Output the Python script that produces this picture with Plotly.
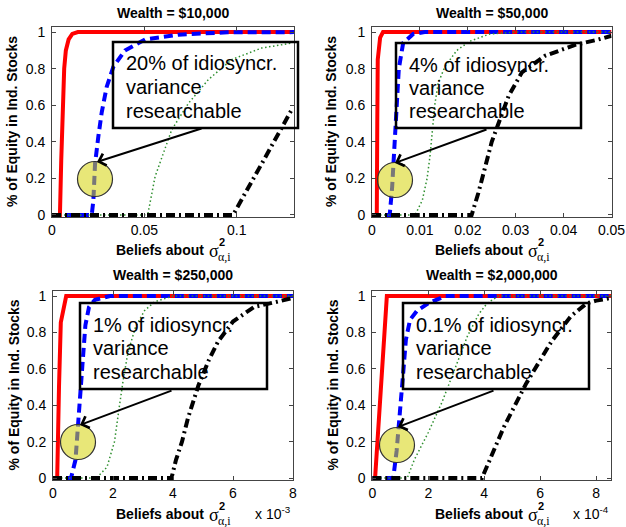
import plotly.graph_objects as go

W, H = 626, 527

# ---------------- data (x in axis units shown on each panel) ----------------
# Panel 1: Wealth = $10,000 (x in raw units)
w1_red_x = [0, 0.0043, 0.0050, 0.0057, 0.0066, 0.0075, 0.009, 0.011, 0.014, 0.131]
w1_red_y = [0, 0, 0.30, 0.60, 0.80, 0.90, 0.96, 0.99, 1.0, 1.0]
w1_blue_x = [0, 0.0215, 0.0224, 0.0233, 0.0251, 0.0269, 0.0296, 0.0332, 0.0395, 0.0504, 0.0684, 0.095, 0.131]
w1_blue_y = [0, 0, 0.08, 0.28, 0.43, 0.56, 0.70, 0.81, 0.90, 0.96, 0.986, 0.999, 1.0]
w1_green_x = [0, 0.050, 0.052, 0.0558, 0.0648, 0.0738, 0.0846, 0.0973, 0.1135, 0.1298]
w1_green_y = [0, 0, 0.01, 0.21, 0.466, 0.61, 0.74, 0.85, 0.913, 0.94]
w1_black_x = [0, 0.098, 0.1135, 0.130]
w1_black_y = [0, 0, 0.28, 0.58]

# Panel 2: Wealth = $50,000
w2_red_x = [0, 0.0010, 0.0011, 0.0012, 0.0017, 0.0023, 0.05]
w2_red_y = [0, 0, 0.50, 0.85, 0.97, 1.0, 1.0]
w2_blue_x = [0, 0.0037, 0.0042, 0.0046, 0.0049, 0.0052, 0.0056, 0.0065, 0.0086, 0.011, 0.05]
w2_blue_y = [0, 0, 0.15, 0.35, 0.55, 0.70, 0.80, 0.94, 0.99, 1.0, 1.0]
w2_green_x = [0, 0.009, 0.0105, 0.0115, 0.0121, 0.0125, 0.0131, 0.0138, 0.0152, 0.0177, 0.0204, 0.0246, 0.030, 0.05]
w2_green_y = [0, 0, 0.08, 0.20, 0.32, 0.45, 0.60, 0.72, 0.81, 0.90, 0.95, 0.99, 1.0, 1.0]
w2_black_x = [0, 0.0208, 0.0222, 0.025, 0.0285, 0.0313, 0.0361, 0.0424, 0.0473, 0.05]
w2_black_y = [0, 0, 0.12, 0.40, 0.65, 0.78, 0.87, 0.93, 0.96, 0.98]

# Panel 3: Wealth = $250,000 (x in units of 1e-3)
w3_red_x = [0, 0.14, 0.20, 0.26, 0.44, 8]
w3_red_y = [0, 0, 0.50, 0.855, 1.0, 1.0]
w3_blue_x = [0, 0.60, 0.75, 0.86, 0.98, 1.08, 1.20, 1.40, 1.90, 8]
w3_blue_y = [0, 0, 0.10, 0.32, 0.62, 0.84, 0.94, 0.98, 1.0, 1.0]
w3_green_x = [0, 1.45, 1.80, 2.05, 2.20, 2.35, 2.50, 2.75, 3.05, 3.40, 4.00, 8]
w3_green_y = [0, 0, 0.06, 0.20, 0.38, 0.55, 0.69, 0.83, 0.92, 0.97, 1.0, 1.0]
w3_black_x = [0, 3.95, 4.10, 4.30, 4.50, 4.85, 5.20, 5.50, 6.00, 6.70, 7.50, 8.0]
w3_black_y = [0, 0, 0.10, 0.20, 0.33, 0.51, 0.65, 0.75, 0.86, 0.94, 0.97, 0.99]

# Panel 4: Wealth = $2,000,000 (x in units of 1e-4)
w4_red_x = [0, 0.10, 0.52, 8.54]
w4_red_y = [0, 0, 1.0, 1.0]
w4_blue_x = [0, 0.75, 0.87, 0.99, 1.10, 1.20, 1.35, 1.60, 2.00, 2.60, 8.54]
w4_blue_y = [0, 0, 0.15, 0.35, 0.57, 0.76, 0.87, 0.92, 0.96, 1.0, 1.0]
w4_green_x = [0, 1.25, 1.50, 2.00, 2.50, 3.00, 3.40, 3.80, 4.10, 4.50, 8.54]
w4_green_y = [0, 0, 0.10, 0.25, 0.42, 0.62, 0.78, 0.90, 0.96, 1.0, 1.0]
w4_black_x = [0, 3.92, 4.70, 5.50, 6.40, 7.10, 7.66, 8.00, 8.54]
w4_black_y = [0, 0, 0.28, 0.52, 0.75, 0.89, 0.96, 0.975, 0.99]

titles = ["Wealth = $10,000", "Wealth = $50,000", "Wealth = $250,000", "Wealth = $2,000,000"]
box_first_lines = ["20% of idiosyncr.", "4% of idiosyncr.", "1% of idiosyncr.", "0.1% of idiosyncr."]
box_other_lines = ["variance", "researchable"]
y_ticks = [0, 0.2, 0.4, 0.6, 0.8, 1]
y_ticklabels = ["0", "0.2", "0.4", "0.6", "0.8", "1"]
x_ticks = [[0, 0.05, 0.1], [0, 0.01, 0.02, 0.03, 0.04, 0.05], [0, 2, 4, 6, 8], [0, 2, 4, 6, 8]]
x_ticklabels = [["0", "0.05", "0.1"], ["0", "0.01", "0.02", "0.03", "0.04", "0.05"],
                ["0", "2", "4", "6", "8"], ["0", "2", "4", "6", "8"]]
x_exponents = [None, None, "-3", "-4"]
x_ranges = [[0, 0.131], [0, 0.05], [0, 8], [0, 8.54]]

series = [
    [(w1_red_x, w1_red_y), (w1_blue_x, w1_blue_y), (w1_green_x, w1_green_y), (w1_black_x, w1_black_y)],
    [(w2_red_x, w2_red_y), (w2_blue_x, w2_blue_y), (w2_green_x, w2_green_y), (w2_black_x, w2_black_y)],
    [(w3_red_x, w3_red_y), (w3_blue_x, w3_blue_y), (w3_green_x, w3_green_y), (w3_black_x, w3_black_y)],
    [(w4_red_x, w4_red_y), (w4_blue_x, w4_blue_y), (w4_green_x, w4_green_y), (w4_black_x, w4_black_y)],
]

# ---------------- layout geometry (pixels) ----------------
axes_px = [  # left, right, top, bottom
    (52, 294, 27, 217),
    (372, 611.5, 27, 217),
    (53, 293, 291, 480),
    (372.3, 611.3, 291, 480),
]
box_px = [  # left, top, right, bottom of text box
    (113, 42, 298, 128),
    (396, 43, 581, 128),
    (80, 303, 267, 389),
    (403, 303, 589, 389),
]
arrow_px = [  # tip (x,y), tail (x,y)
    ((97, 162), (203, 128)),
    ((395, 163), (488, 129)),
    ((80, 425), (173, 390)),
    ((398, 427), (495, 390)),
]
circle_px = [(95, 179), (395, 180), (78, 442), (397, 445)]
circle_r = 17.5
title_y = [13, 13, 275, 275]
xlabel_y = [250, 250, 514, 514]
ylabel_x = [12, 331, 13, 332]

styles = [
    dict(color="#ff0000", width=4, dash="solid"),
    dict(color="#0000ff", width=4, dash="9px,5px"),
    dict(color="#2f8f2f", width=1.5, dash="1.5px,2.5px"),
    dict(color="#000000", width=4, dash="9px,4px,2px,4px"),
]

SANS = "Liberation Sans, Arial, Helvetica, sans-serif"
SERIF = "Liberation Serif, Times New Roman, serif"


def fx(px):
    return px / W


def fy(py):
    return 1 - py / H


fig = go.Figure()
annotations = []
shapes = []
layout_axes = {}

for i in range(4):
    xa = "x" if i == 0 else f"x{i+1}"
    ya = "y" if i == 0 else f"y{i+1}"
    for (xs, ys), st in zip(series[i], styles):
        fig.add_trace(go.Scatter(x=xs, y=ys, mode="lines", line=st, xaxis=xa, yaxis=ya,
                                 showlegend=False, hoverinfo="skip"))
    l, r, t, b = axes_px[i]
    axcommon = dict(showline=True, linecolor="#444", linewidth=1, mirror="ticks", automargin=False,
                    ticks="inside", ticklen=4, tickcolor="#444", showgrid=False, zeroline=False,
                    tickfont=dict(family=SANS, size=14, color="#000"))
    xkey = "xaxis" if i == 0 else f"xaxis{i+1}"
    ykey = "yaxis" if i == 0 else f"yaxis{i+1}"
    layout_axes[xkey] = dict(axcommon, domain=[fx(l), fx(r)], range=x_ranges[i], anchor=ya,
                             tickvals=x_ticks[i], ticktext=x_ticklabels[i])
    layout_axes[ykey] = dict(axcommon, domain=[fy(b), fy(t)], range=[-0.011, 1.028], anchor=xa,
                             tickvals=y_ticks, ticktext=y_ticklabels, ticklabelstandoff=3)

    cx = (l + r) / 2
    # title
    annotations.append(dict(text=f"<b>{titles[i]}</b>", x=fx(cx), y=fy(title_y[i]), xref="paper", yref="paper",
                            xanchor="center", yanchor="middle", showarrow=False,
                            font=dict(family=SANS, size=14, color="#000")))
    # y label
    annotations.append(dict(text="<b>% of Equity in Ind. Stocks</b>", x=fx(ylabel_x[i]), y=fy((t + b) / 2),
                            xref="paper", yref="paper", xanchor="center", yanchor="middle", textangle=-90,
                            showarrow=False, font=dict(family=SANS, size=14, color="#000")))
    # x label pieces
    ly = xlabel_y[i]
    annotations.append(dict(text="<b>Beliefs about</b>", x=fx(cx + 33), y=fy(ly), xref="paper", yref="paper",
                            xanchor="right", yanchor="middle", showarrow=False,
                            font=dict(family=SANS, size=14, color="#000")))
    annotations.append(dict(text="σ", x=fx(cx + 34), y=fy(ly + 1), xref="paper", yref="paper",
                            xanchor="left", yanchor="middle", showarrow=False,
                            font=dict(family=SERIF, size=18, color="#000")))
    annotations.append(dict(text="<b>2</b>", x=fx(cx + 44), y=fy(ly - 8), xref="paper", yref="paper",
                            xanchor="left", yanchor="middle", showarrow=False,
                            font=dict(family=SANS, size=11, color="#000")))
    annotations.append(dict(text="α,i", x=fx(cx + 43), y=fy(ly + 7), xref="paper", yref="paper",
                            xanchor="left", yanchor="middle", showarrow=False,
                            font=dict(family=SERIF, size=12, color="#000")))
    if x_exponents[i]:
        annotations.append(dict(text=f"x 10<sup>{x_exponents[i]}</sup>", x=fx(r), y=fy(ly - 1), xref="paper",
                                yref="paper", xanchor="right", yanchor="middle", showarrow=False,
                                font=dict(family=SANS, size=14, color="#000")))
    # text box
    bl, bt, br, bb = box_px[i]
    shapes.append(dict(type="rect", xref="paper", yref="paper", x0=fx(bl), x1=fx(br), y0=fy(bb), y1=fy(bt),
                       line=dict(color="#000", width=2.5), fillcolor="rgba(0,0,0,0)", layer="above"))
    lines = [box_first_lines[i]] + box_other_lines
    for k, txt in enumerate(lines):
        annotations.append(dict(text=txt, x=fx(bl + 11), y=fy(bt + 21.5 + 23.5 * k), xref="paper", yref="paper",
                                xanchor="left", yanchor="middle", showarrow=False,
                                font=dict(family=SANS, size=20, color="#000")))
    # circle
    ccx, ccy = circle_px[i]
    shapes.append(dict(type="circle", xref="paper", yref="paper",
                       x0=fx(ccx - circle_r), x1=fx(ccx + circle_r), y0=fy(ccy + circle_r), y1=fy(ccy - circle_r),
                       fillcolor="rgba(214,212,14,0.56)", line=dict(color="#333", width=1.2), layer="above"))
    # arrow
    (tx, ty), (sx, sy) = arrow_px[i]
    annotations.append(dict(text="", x=fx(tx), y=fy(ty), xref="paper", yref="paper",
                            ax=sx - tx, ay=sy - ty, axref="pixel", ayref="pixel", showarrow=True,
                            arrowhead=4, arrowsize=1.2, arrowwidth=2, arrowcolor="#000"))

fig.update_layout(width=W, height=H, autosize=False, margin=dict(l=0, r=0, t=0, b=0),
                  paper_bgcolor="white", plot_bgcolor="white", showlegend=False,
                  annotations=annotations, shapes=shapes, **layout_axes)

fig.write_html("out.html", config={"displayModeBar": False},
               post_script="document.body.style.margin='0px';")
